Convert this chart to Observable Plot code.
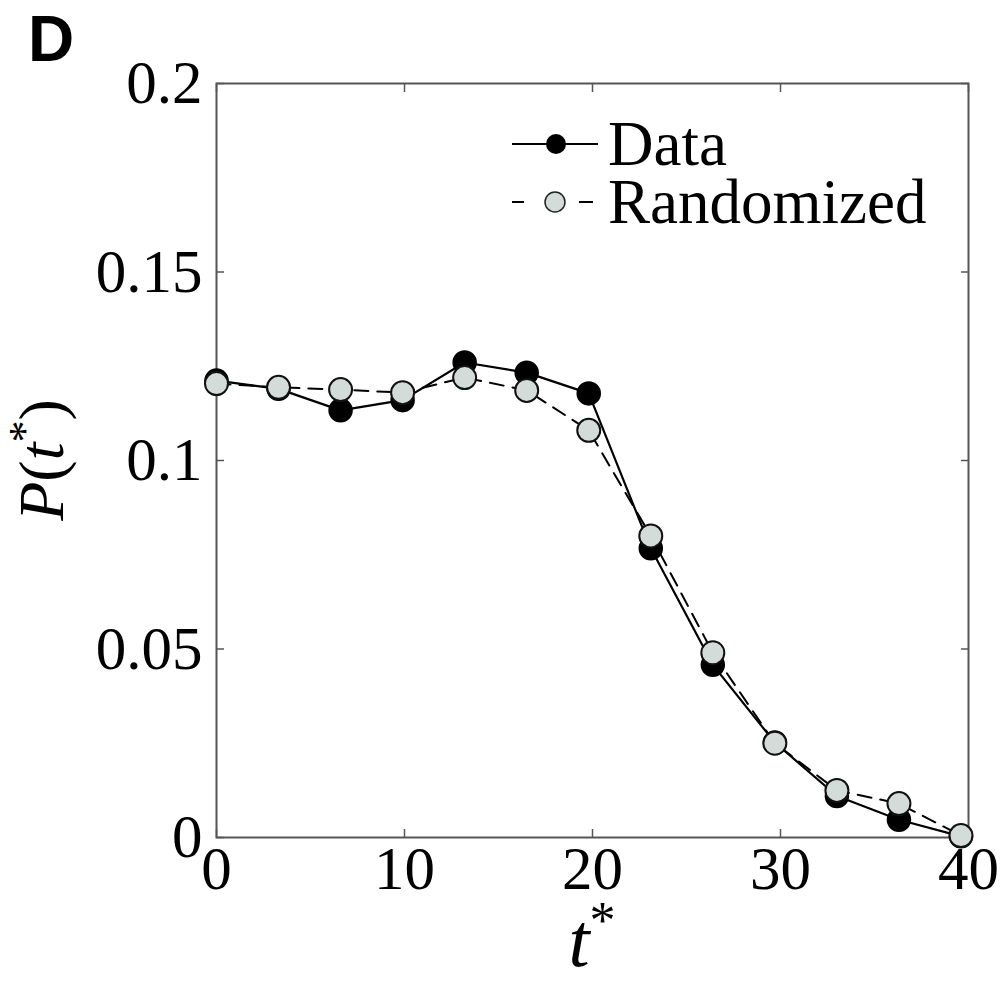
<!DOCTYPE html>
<html>
<head>
<meta charset="utf-8">
<script src="https://cdn.jsdelivr.net/npm/d3@7"></script>
<script src="https://cdn.jsdelivr.net/npm/@observablehq/plot@0.6"></script>
<style>
  html, body { margin: 0; padding: 0; background: #fff; }
  #chart { position: relative; width: 1002px; height: 983px; }
</style>
</head>
<body>
<div id="chart"></div>
<script>
// ---- data ----
const tValues = [0, 3.3, 6.6, 9.9, 13.2, 16.5, 19.8, 23.1, 26.4, 29.7, 33.0, 36.3, 39.6];
const dataValues = [0.1212, 0.1190, 0.1133, 0.1160, 0.1260, 0.1233, 0.1178, 0.0767, 0.0458, 0.0252, 0.0110, 0.0047, 0.0003];
const randomizedValues = [0.1204, 0.1194, 0.1188, 0.1180, 0.1220, 0.1186, 0.1080, 0.0800, 0.0490, 0.0250, 0.0125, 0.0090, 0.0005];
const xTicks = [0, 10, 20, 30, 40];
const yTicks = [0, 0.05, 0.1, 0.15, 0.2];
const yTickLabels = ["0", "0.05", "0.1", "0.15", "0.2"];
const seriesNames = ["Data", "Randomized"];

const dataRows = tValues.map((t, i) => ({t, p: dataValues[i]}));
const randRows = tValues.map((t, i) => ({t, p: randomizedValues[i]}));

const grey = "#d4dcda";
const serif = "'Liberation Serif', 'DejaVu Serif', serif";

const plot = Plot.plot({
  width: 1002,
  height: 983,
  marginLeft: 216,
  marginRight: 34,
  marginTop: 83,
  marginBottom: 146,
  style: {fontFamily: serif, fontSize: "61px", background: "#fff", color: "#000"},
  x: {domain: [0, 40], label: null},
  y: {domain: [0, 0.2], label: null},
  marks: [
    Plot.frame({stroke: "#555", strokeWidth: 2}),
    // inward ticks
    Plot.axisX({anchor: "bottom", ticks: xTicks, tickSize: -8, text: null, stroke: "#555", strokeWidth: 1.5}),
    Plot.axisX({anchor: "top", ticks: xTicks, tickSize: -8, text: null, stroke: "#555", strokeWidth: 1.5}),
    Plot.axisY({anchor: "left", ticks: yTicks, tickSize: -8, text: null, stroke: "#555", strokeWidth: 1.5}),
    Plot.axisY({anchor: "right", ticks: yTicks, tickSize: -8, text: null, stroke: "#555", strokeWidth: 1.5}),
    // labels
    Plot.axisX({anchor: "bottom", ticks: xTicks, tickSize: 0, tickPadding: 8, label: null, tickFormat: d => String(d)}),
    Plot.axisY({anchor: "left", ticks: yTicks, tickSize: 0, tickPadding: 14, label: null,
      tickFormat: d => yTickLabels[yTicks.indexOf(d)]}),
    // series
    Plot.line(dataRows, {x: "t", y: "p", stroke: "#000", strokeWidth: 2.2}),
    Plot.dot(dataRows, {x: "t", y: "p", r: 11.5, fill: "#000", stroke: "#000", strokeWidth: 1.5}),
    Plot.line(randRows, {x: "t", y: "p", stroke: "#000", strokeWidth: 2, strokeDasharray: "14,9"}),
    Plot.dot(randRows, {x: "t", y: "p", r: 11.5, fill: grey, stroke: "#111", strokeWidth: 2})
  ]
});

document.getElementById("chart").appendChild(plot);

const svg = d3.select(plot);
const xs = plot.scale("x"), ys = plot.scale("y");
const frameLeft = xs.range[0], frameRight = xs.range[1];
const frameTop = ys.range[1], frameBottom = ys.range[0];

// panel letter
svg.append("text")
  .attr("x", 28).attr("y", 61)
  .attr("text-anchor", "start")
  .attr("font-family", "'Liberation Sans', Arial, sans-serif")
  .attr("font-weight", "bold").attr("font-size", 64)
  .text("D");

// x label t*
const xl = svg.append("text")
  .attr("x", (frameLeft + frameRight) / 2).attr("y", 966)
  .attr("text-anchor", "middle")
  .attr("font-family", serif).attr("font-size", 76);
xl.append("tspan").attr("font-style", "italic").text("t");
xl.append("tspan").attr("font-size", 52).attr("dy", -28).text("*");

// y label P(t*)
const yl = svg.append("text")
  .attr("transform", `translate(63, ${(frameTop + frameBottom) / 2}) rotate(-90)`)
  .attr("text-anchor", "middle")
  .attr("font-family", serif).attr("font-size", 64);
yl.append("tspan").attr("font-style", "italic").text("P");
yl.append("tspan").text("(");
yl.append("tspan").attr("font-style", "italic").text("t");
yl.append("tspan").attr("font-size", 44).attr("dy", -24).text("*");
yl.append("tspan").attr("dy", 24).text(")");

// legend
const lg = svg.append("g").attr("font-family", serif).attr("font-size", 63).attr("text-anchor", "start");
seriesNames.forEach((name, i) => {
  const cy = 144 + i * 58;
  const g = lg.append("g");
  if (i === 0) {
    g.append("line").attr("x1", 512).attr("x2", 598).attr("y1", cy).attr("y2", cy)
      .attr("stroke", "#000").attr("stroke-width", 2.2);
    g.append("circle").attr("cx", 556).attr("cy", cy).attr("r", 10).attr("fill", "#000");
  } else {
    g.append("line").attr("x1", 512).attr("x2", 524).attr("y1", cy).attr("y2", cy)
      .attr("stroke", "#000").attr("stroke-width", 2);
    g.append("line").attr("x1", 579).attr("x2", 593).attr("y1", cy).attr("y2", cy)
      .attr("stroke", "#000").attr("stroke-width", 2);
    g.append("circle").attr("cx", 555).attr("cy", cy).attr("r", 10)
      .attr("fill", grey).attr("stroke", "#222").attr("stroke-width", 1.5);
  }
  g.append("text").attr("x", 608).attr("y", cy + 21).attr("text-anchor", "start").text(name);
});
</script>
</body>
</html>
